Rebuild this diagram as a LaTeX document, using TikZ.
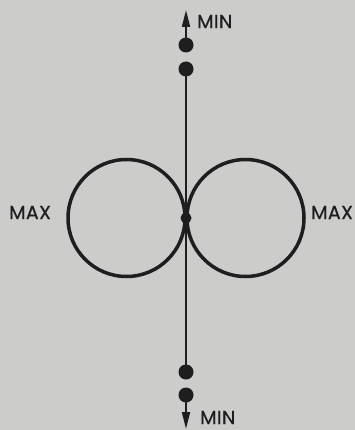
\documentclass[tikz,border=0pt]{standalone}
\usepackage{fontspec}
\setmainfont{Poppins}
\newfontfamily\lblfont[LetterSpace=2,FakeBold=0.8]{Poppins}
\usetikzlibrary{arrows.meta}
\definecolor{bg}{RGB}{204,204,202}
\definecolor{ink}{RGB}{30,30,30}
\tikzset{
  dotnode/.style={circle,fill=ink,inner sep=0pt,minimum size=15pt},
  ring/.style={circle,draw=ink,line width=3.5pt,inner sep=0pt,minimum size=117pt},
  lbl/.style={font=\lblfont\fontsize{19}{19}\selectfont,text=ink,inner sep=0pt},
  axis/.style={draw=ink,line width=2pt},
  tip/.style={-{Triangle[length=17pt,width=8pt]}}
}
\begin{document}
\begin{tikzpicture}[x=1pt,y=-1pt]
\fill[bg] (0,0) rectangle (355,430);
\useasboundingbox (0,0) rectangle (355,430);
\node[dotnode] (d1) at (186,45) {};
\node[dotnode] (d2) at (186,69) {};
\node[dotnode] (d3) at (186,372) {};
\node[dotnode] (d4) at (186,395) {};
\node[dotnode,minimum size=11pt] (c) at (186,218) {};
\coordinate (t1) at (186,10);
\coordinate (t2) at (186,429);
\node[ring] (L) at (126.5,218) {};
\node[ring] (R) at (245.5,218) {};
\draw[axis] (d2.center) -- (d3.center);
\draw[axis,tip] (d1.center) -- (t1);
\draw[axis,tip] (d4.center) -- (t2);
\node[lbl,anchor=west] (m1) at (197,21.5) {MIN};
\node[lbl,anchor=west] (m2) at (200,417.5) {MIN};
\node[lbl,anchor=west] (x1) at (9,212.5) {MAX};
\node[lbl,anchor=west] (x2) at (311,212.5) {MAX};
\end{tikzpicture}
\end{document}
